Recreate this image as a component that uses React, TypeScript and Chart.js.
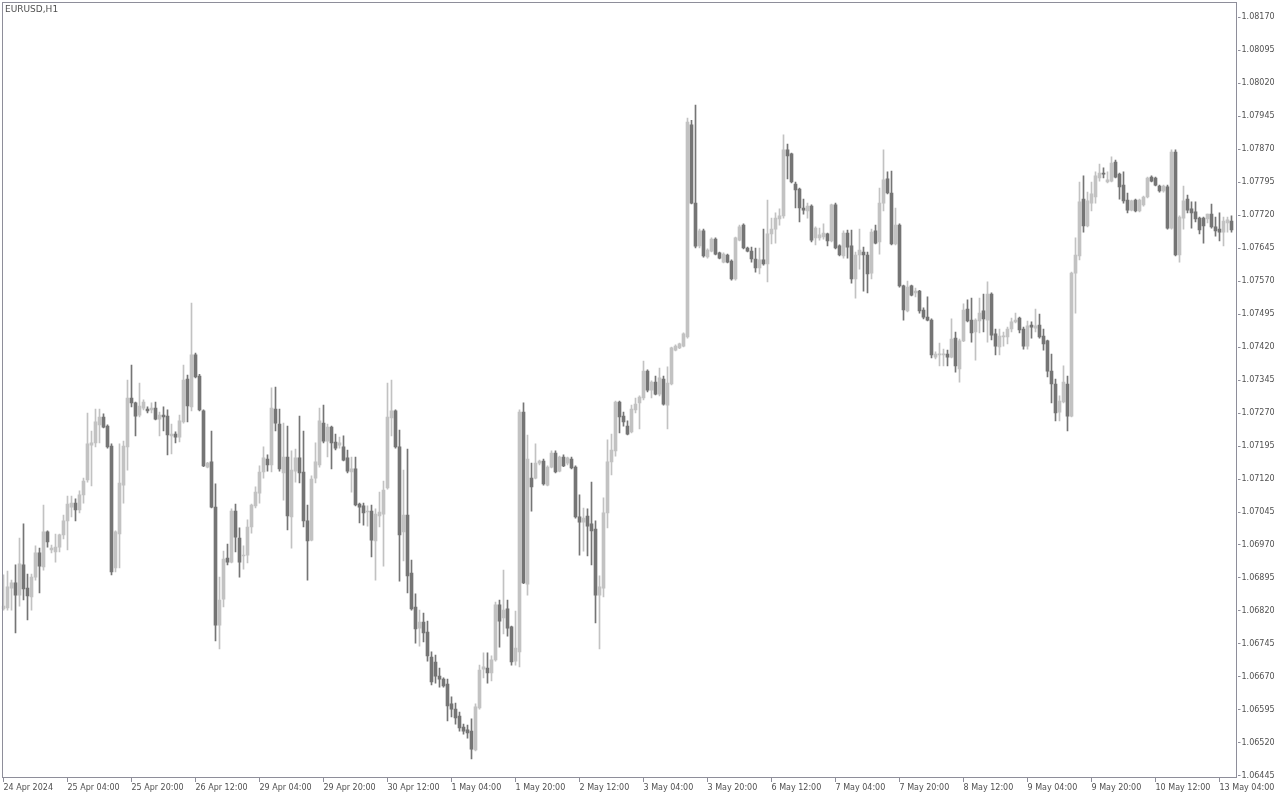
import React, { useEffect, useRef } from 'react';
import { Chart, registerables } from 'chart.js';

Chart.register(...registerables);

const symbolTitle = 'EURUSD,H1';

const xTickLabels = [
  '24 Apr 2024', '25 Apr 04:00', '25 Apr 20:00', '26 Apr 12:00', '29 Apr 04:00',
  '29 Apr 20:00', '30 Apr 12:00', '1 May 04:00', '1 May 20:00', '2 May 12:00',
  '3 May 04:00', '3 May 20:00', '6 May 12:00', '7 May 04:00', '7 May 20:00',
  '8 May 12:00', '9 May 04:00', '9 May 20:00', '10 May 12:00', '13 May 04:00',
];
const barsPerTick = 16;

const yTickValues = [
  1.06445, 1.06520, 1.06595, 1.06670, 1.06745, 1.06820, 1.06895, 1.06970,
  1.07045, 1.07120, 1.07195, 1.07270, 1.07345, 1.07420, 1.07495, 1.07570,
  1.07645, 1.07720, 1.07795, 1.07870, 1.07945, 1.08020, 1.08095, 1.08170,
];
const yMin = 1.0644045;
const yMax = 1.082041;

const opens = [
  1.06825,1.06827,1.06872,1.06884,1.06856,1.06925,1.06872,1.06852,1.06897,1.06952,
  1.06920,1.07000,1.06959,1.06954,1.06965,1.06993,1.07025,1.07056,1.07065,1.07050,
  1.07084,1.07118,1.07197,1.07202,1.07243,1.07261,1.07240,1.07195,1.06918,1.06995,
  1.07106,1.07193,1.07304,1.07293,1.07265,1.07281,1.07279,1.07277,1.07281,1.07256,
  1.07265,1.07263,1.07218,1.07222,1.07215,1.07250,1.07347,1.07284,1.07402,1.07354,
  1.07275,1.07147,1.07159,1.07056,1.06788,1.06847,1.06940,1.06931,1.07047,1.06986,
  1.06945,1.06947,1.07011,1.07059,1.07088,1.07136,1.07165,1.07152,1.07279,1.07245,
  1.07134,1.07170,1.07034,1.07138,1.07168,1.07136,1.07025,1.06981,1.07122,1.07152,
  1.07247,1.07206,1.07238,1.07204,1.07197,1.07193,1.07168,1.07136,1.07143,1.07063,
  1.07059,1.07045,1.07047,1.06979,1.07036,1.07040,1.07100,1.07259,1.07275,1.07193,
  1.07000,1.07038,1.06906,1.06829,1.06781,1.06795,1.06772,1.06715,1.06704,1.06672,
  1.06665,1.06654,1.06609,1.06597,1.06581,1.06556,1.06550,1.06547,1.06504,1.06600,
  1.06688,1.06690,1.06679,1.06709,1.06834,1.06804,1.06825,1.06784,1.06706,1.06727,
  1.07272,1.06881,1.07122,1.07122,1.07156,1.07161,1.07106,1.07147,1.07179,1.07138,
  1.07170,1.07156,1.07165,1.07147,1.07034,1.07022,1.07036,1.07018,1.07006,1.06856,
  1.06872,1.07043,1.07159,1.07184,1.07295,1.07263,1.07240,1.07227,1.07277,1.07293,
  1.07304,1.07365,1.07322,1.07340,1.07313,1.07347,1.07288,1.07336,1.07413,1.07418,
  1.07422,1.07443,1.07925,1.07747,1.07650,1.07684,1.07625,1.07638,1.07665,1.07634,
  1.07613,1.07629,1.07615,1.07575,1.07663,1.07697,1.07645,1.07638,1.07620,1.07600,
  1.07618,1.07609,1.07677,1.07688,1.07711,1.07718,1.07868,1.07859,1.07790,1.07779,
  1.07736,1.07729,1.07740,1.07668,1.07668,1.07670,1.07677,1.07661,1.07743,1.07650,
  1.07627,1.07679,1.07650,1.07575,1.07629,1.07636,1.07629,1.07588,1.07684,1.07659,
  1.07747,1.07802,1.07770,1.07654,1.07697,1.07559,1.07502,1.07559,1.07543,1.07547,
  1.07504,1.07488,1.07481,1.07397,1.07402,1.07402,1.07404,1.07397,1.07440,1.07370,
  1.07434,1.07506,1.07481,1.07454,1.07479,1.07502,1.07481,1.07540,1.07450,1.07420,
  1.07443,1.07443,1.07461,1.07477,1.07486,1.07461,1.07422,1.07470,1.07463,1.07470,
  1.07445,1.07434,1.07365,1.07336,1.07272,1.07295,1.07336,1.07263,1.07588,1.07627,
  1.07756,1.07695,1.07747,1.07761,1.07804,1.07815,1.07795,1.07797,1.07840,1.07813,
  1.07788,1.07754,1.07731,1.07754,1.07729,1.07743,1.07761,1.07806,1.07804,1.07786,
  1.07775,1.07784,1.07690,1.07863,1.07629,1.07713,1.07756,1.07734,1.07727,1.07713,
  1.07713,1.07711,1.07722,1.07693,1.07688,1.07681,1.07702,1.07706,
];

const highs = [
  1.06902,1.06911,1.06890,1.06925,1.06986,1.07018,1.06904,1.06904,1.06968,1.06963,
  1.07061,1.07002,1.06970,1.06995,1.06995,1.07038,1.07081,1.07081,1.07075,1.07093,
  1.07122,1.07270,1.07229,1.07279,1.07279,1.07268,1.07243,1.07200,1.07002,1.07200,
  1.07206,1.07345,1.07379,1.07295,1.07338,1.07300,1.07284,1.07293,1.07295,1.07272,
  1.07284,1.07277,1.07245,1.07227,1.07265,1.07379,1.07356,1.07520,1.07406,1.07358,
  1.07277,1.07158,1.07229,1.07109,1.06897,1.06956,1.06972,1.07052,1.07063,1.07009,
  1.06968,1.07027,1.07063,1.07102,1.07150,1.07193,1.07175,1.07327,1.07329,1.07279,
  1.07247,1.07240,1.07184,1.07188,1.07263,1.07229,1.07061,1.07127,1.07202,1.07281,
  1.07288,1.07245,1.07240,1.07222,1.07215,1.07218,1.07186,1.07170,1.07170,1.07065,
  1.07065,1.07059,1.07061,1.07052,1.07090,1.07115,1.07338,1.07345,1.07277,1.07231,
  1.07140,1.07188,1.06936,1.06859,1.06822,1.06815,1.06797,1.06727,1.06720,1.06690,
  1.06668,1.06665,1.06625,1.06611,1.06590,1.06563,1.06561,1.06575,1.06609,1.06697,
  1.06725,1.06725,1.06718,1.06840,1.06845,1.06913,1.06845,1.06786,1.06820,1.07277,
  1.07293,1.07220,1.07156,1.07200,1.07163,1.07165,1.07150,1.07184,1.07184,1.07172,
  1.07175,1.07170,1.07170,1.07150,1.07084,1.07054,1.07052,1.07113,1.07025,1.06900,
  1.07077,1.07209,1.07222,1.07297,1.07297,1.07272,1.07252,1.07288,1.07304,1.07309,
  1.07388,1.07368,1.07343,1.07354,1.07372,1.07354,1.07375,1.07420,1.07425,1.07429,
  1.07452,1.07940,1.07935,1.07970,1.07688,1.07688,1.07643,1.07668,1.07668,1.07636,
  1.07634,1.07631,1.07618,1.07670,1.07697,1.07700,1.07647,1.07647,1.07645,1.07645,
  1.07688,1.07754,1.07713,1.07725,1.07734,1.07902,1.07881,1.07861,1.07795,1.07781,
  1.07756,1.07747,1.07743,1.07693,1.07690,1.07700,1.07679,1.07745,1.07747,1.07652,
  1.07684,1.07686,1.07686,1.07636,1.07688,1.07647,1.07636,1.07688,1.07697,1.07781,
  1.07868,1.07818,1.07820,1.07736,1.07700,1.07561,1.07570,1.07561,1.07554,1.07549,
  1.07509,1.07534,1.07484,1.07409,1.07429,1.07415,1.07413,1.07484,1.07454,1.07438,
  1.07518,1.07527,1.07531,1.07484,1.07531,1.07540,1.07568,1.07543,1.07461,1.07461,
  1.07454,1.07465,1.07486,1.07497,1.07488,1.07465,1.07479,1.07477,1.07506,1.07495,
  1.07461,1.07436,1.07404,1.07347,1.07309,1.07377,1.07354,1.07590,1.07668,1.07795,
  1.07809,1.07772,1.07795,1.07818,1.07836,1.07827,1.07818,1.07852,1.07845,1.07815,
  1.07818,1.07770,1.07754,1.07756,1.07756,1.07763,1.07806,1.07809,1.07806,1.07788,
  1.07788,1.07788,1.07868,1.07868,1.07718,1.07786,1.07765,1.07750,1.07750,1.07715,
  1.07715,1.07722,1.07745,1.07715,1.07725,1.07715,1.07715,1.07718,
];

const lows = [
  1.06822,1.06822,1.06822,1.06770,1.06831,1.06845,1.06800,1.06822,1.06890,1.06861,
  1.06913,1.06965,1.06952,1.06931,1.06954,1.06984,1.06959,1.07034,1.07025,1.07043,
  1.07065,1.07113,1.07104,1.07193,1.07202,1.07236,1.07190,1.06902,1.06909,1.06918,
  1.07065,1.07140,1.07284,1.07218,1.07261,1.07277,1.07270,1.07270,1.07254,1.07218,
  1.07229,1.07175,1.07177,1.07202,1.07204,1.07247,1.07250,1.07275,1.07350,1.07275,
  1.07148,1.07145,1.07054,1.06752,1.06734,1.06829,1.06925,1.06929,1.06954,1.06897,
  1.06915,1.06929,1.06997,1.07054,1.07065,1.07122,1.07138,1.07136,1.07229,1.07138,
  1.07072,1.07004,1.06963,1.07113,1.07111,1.07011,1.06890,1.06979,1.07111,1.07147,
  1.07202,1.07170,1.07143,1.07186,1.07190,1.07161,1.07134,1.07090,1.07059,1.07020,
  1.07015,1.07013,1.06943,1.06890,1.07011,1.06922,1.07097,1.07218,1.07190,1.06888,
  1.06934,1.06861,1.06822,1.06747,1.06740,1.06750,1.06706,1.06652,1.06656,1.06647,
  1.06647,1.06570,1.06579,1.06563,1.06547,1.06540,1.06531,1.06484,1.06502,1.06597,
  1.06668,1.06656,1.06661,1.06706,1.06738,1.06768,1.06763,1.06697,1.06697,1.06693,
  1.06882,1.06856,1.07047,1.07120,1.07152,1.07106,1.07104,1.07145,1.07134,1.07136,
  1.07148,1.07152,1.07143,1.07031,1.06947,1.06956,1.06945,1.06925,1.06793,1.06734,
  1.06852,1.07009,1.07129,1.07172,1.07225,1.07240,1.07220,1.07225,1.07270,1.07234,
  1.07300,1.07318,1.07304,1.07311,1.07309,1.07288,1.07234,1.07334,1.07411,1.07416,
  1.07420,1.07440,1.07745,1.07645,1.07645,1.07624,1.07622,1.07636,1.07629,1.07620,
  1.07611,1.07611,1.07572,1.07572,1.07661,1.07643,1.07636,1.07613,1.07590,1.07586,
  1.07606,1.07568,1.07654,1.07656,1.07697,1.07713,1.07802,1.07793,1.07736,1.07704,
  1.07722,1.07713,1.07659,1.07652,1.07663,1.07665,1.07650,1.07659,1.07643,1.07627,
  1.07622,1.07622,1.07565,1.07531,1.07597,1.07547,1.07543,1.07575,1.07654,1.07631,
  1.07729,1.07768,1.07652,1.07652,1.07556,1.07481,1.07500,1.07536,1.07534,1.07497,
  1.07484,1.07479,1.07395,1.07393,1.07377,1.07377,1.07377,1.07395,1.07363,1.07340,
  1.07432,1.07477,1.07431,1.07390,1.07452,1.07454,1.07431,1.07436,1.07402,1.07402,
  1.07422,1.07427,1.07454,1.07475,1.07452,1.07415,1.07415,1.07440,1.07454,1.07440,
  1.07413,1.07352,1.07293,1.07252,1.07252,1.07293,1.07229,1.07261,1.07497,1.07618,
  1.07681,1.07693,1.07729,1.07747,1.07797,1.07804,1.07793,1.07795,1.07804,1.07756,
  1.07747,1.07725,1.07729,1.07727,1.07727,1.07740,1.07759,1.07795,1.07786,1.07772,
  1.07772,1.07688,1.07688,1.07627,1.07613,1.07688,1.07725,1.07690,1.07704,1.07677,
  1.07656,1.07702,1.07690,1.07672,1.07661,1.07650,1.07681,1.07681,
];

const closes = [
  1.06831,1.06875,1.06884,1.06856,1.06927,1.06870,1.06854,1.06897,1.06952,1.06922,
  1.07000,1.06977,1.06963,1.06965,1.06993,1.07025,1.07063,1.07065,1.07050,1.07084,
  1.07115,1.07200,1.07202,1.07250,1.07261,1.07238,1.07193,1.06909,1.07000,1.07111,
  1.07195,1.07304,1.07293,1.07263,1.07286,1.07295,1.07275,1.07281,1.07256,1.07265,
  1.07261,1.07220,1.07222,1.07215,1.07252,1.07345,1.07286,1.07402,1.07352,1.07277,
  1.07150,1.07156,1.07056,1.06788,1.06845,1.06938,1.06931,1.07047,1.06988,1.06931,
  1.06947,1.07011,1.07061,1.07090,1.07136,1.07168,1.07152,1.07281,1.07247,1.07143,
  1.07170,1.07036,1.07140,1.07168,1.07134,1.07025,1.06979,1.07120,1.07159,1.07252,
  1.07206,1.07238,1.07202,1.07190,1.07202,1.07163,1.07138,1.07143,1.07061,1.07056,
  1.07043,1.07047,1.06981,1.07040,1.07045,1.07095,1.07261,1.07275,1.07193,1.06993,
  1.07038,1.06900,1.06825,1.06779,1.06795,1.06770,1.06718,1.06659,1.06672,1.06665,
  1.06650,1.06604,1.06597,1.06577,1.06554,1.06547,1.06543,1.06506,1.06602,1.06686,
  1.06693,1.06679,1.06709,1.06834,1.06797,1.06822,1.06781,1.06704,1.06736,1.07272,
  1.06884,1.07165,1.07102,1.07156,1.07161,1.07109,1.07147,1.07179,1.07136,1.07170,
  1.07150,1.07168,1.07145,1.07034,1.07022,1.07031,1.07013,1.07002,1.06856,1.06875,
  1.07043,1.07159,1.07186,1.07295,1.07261,1.07250,1.07222,1.07279,1.07290,1.07306,
  1.07365,1.07322,1.07340,1.07313,1.07350,1.07290,1.07338,1.07418,1.07422,1.07427,
  1.07450,1.07931,1.07747,1.07649,1.07684,1.07627,1.07640,1.07665,1.07631,1.07622,
  1.07631,1.07613,1.07575,1.07668,1.07693,1.07645,1.07638,1.07620,1.07600,1.07618,
  1.07609,1.07677,1.07688,1.07713,1.07718,1.07868,1.07854,1.07795,1.07777,1.07736,
  1.07731,1.07740,1.07663,1.07690,1.07675,1.07679,1.07661,1.07743,1.07645,1.07629,
  1.07679,1.07647,1.07575,1.07629,1.07640,1.07629,1.07586,1.07681,1.07656,1.07747,
  1.07800,1.07770,1.07654,1.07697,1.07559,1.07504,1.07556,1.07538,1.07547,1.07502,
  1.07488,1.07481,1.07402,1.07404,1.07404,1.07404,1.07397,1.07438,1.07377,1.07434,
  1.07504,1.07479,1.07452,1.07481,1.07497,1.07484,1.07540,1.07447,1.07422,1.07445,
  1.07445,1.07461,1.07477,1.07481,1.07459,1.07422,1.07468,1.07465,1.07468,1.07443,
  1.07427,1.07365,1.07336,1.07270,1.07297,1.07340,1.07263,1.07588,1.07629,1.07750,
  1.07695,1.07752,1.07768,1.07809,1.07815,1.07813,1.07800,1.07838,1.07806,1.07784,
  1.07752,1.07731,1.07752,1.07729,1.07754,1.07761,1.07804,1.07797,1.07788,1.07775,
  1.07786,1.07690,1.07863,1.07629,1.07715,1.07752,1.07731,1.07725,1.07711,1.07686,
  1.07695,1.07722,1.07693,1.07684,1.07681,1.07706,1.07709,1.07686,
];

const UP_COLOR = '#c2c2c2';
const DOWN_COLOR = '#757575';
const FRAME_COLOR = '#8e8e9a';
const TEXT_COLOR = '#505050';
const FONT_FAMILY = '"DejaVu Sans", Tahoma, sans-serif';

const framePlugin = {
  id: 'mtFrame',
  afterDraw(chart: any) {
    const { ctx, chartArea: a } = chart;
    ctx.save();
    ctx.strokeStyle = FRAME_COLOR;
    ctx.lineWidth = 1;
    const l = 2.5;
    const t = Math.round(a.top) + 0.5;
    const r = Math.floor(a.right) - 0.5;
    const b = Math.round(a.bottom) - 0.5;
    ctx.strokeRect(l, t, r - l, b - t);
    ctx.fillStyle = TEXT_COLOR;
    ctx.font = `9px ${FONT_FAMILY}`;
    ctx.textBaseline = 'middle';
    ctx.textAlign = 'left';
    ctx.fillText(symbolTitle, 5, a.top + 8);
    ctx.restore();
  },
};

export default function App() {
  const canvasRef = useRef<HTMLCanvasElement | null>(null);

  useEffect(() => {
    document.body.style.margin = '0';
    document.body.style.background = '#ffffff';
    const canvas = canvasRef.current;
    if (!canvas) return;

    const n = opens.length;
    const labels: string[] = [];
    for (let i = 0; i <= n; i++) {
      labels.push(i % barsPerTick === 0 ? (xTickLabels[i / barsPerTick] ?? '') : '');
    }
    const colors = opens.map((o, i) => (closes[i] >= o ? UP_COLOR : DOWN_COLOR));

    const chart = new Chart(canvas, {
      type: 'bar',
      data: {
        labels,
        datasets: [
          {
            label: 'wick',
            data: lows.map((l, i) => [l, highs[i]]) as any,
            backgroundColor: colors,
            borderWidth: 0,
            barThickness: 1,
            grouped: false,
            minBarLength: 1,
          } as any,
          {
            label: 'body',
            data: opens.map((o, i) => [o, closes[i]]) as any,
            backgroundColor: colors,
            borderWidth: 0,
            barThickness: 3,
            grouped: false,
            minBarLength: 1,
          } as any,
        ],
      },
      options: {
        responsive: false,
        maintainAspectRatio: false,
        animation: false,
        events: [],
        layout: { padding: { left: 1.5, top: 2, right: 0, bottom: 0 } },
        plugins: {
          legend: { display: false },
          tooltip: { enabled: false },
          title: { display: false },
        },
        scales: {
          x: {
            type: 'category',
            offset: true,
            border: { display: false },
            grid: {
              drawOnChartArea: false,
              drawTicks: true,
              tickLength: 4,
              color: FRAME_COLOR,
              offset: false,
            },
            ticks: {
              autoSkip: false,
              maxRotation: 0,
              minRotation: 0,
              align: 'start',
              padding: 1,
              color: TEXT_COLOR,
              font: { family: FONT_FAMILY, size: 8 },
            },
            afterBuildTicks(scale: any) {
              scale.ticks = scale.ticks.filter(
                (t: any) => t.value % barsPerTick === 0 && t.value < n
              );
            },
            afterFit(scale: any) {
              scale.height = 22;
              scale.paddingLeft = 0;
              scale.paddingRight = 0;
            },
          } as any,
          y: {
            type: 'linear',
            position: 'right',
            min: yMin,
            max: yMax,
            border: { display: false },
            grid: {
              drawOnChartArea: false,
              drawTicks: true,
              tickLength: 3,
              color: FRAME_COLOR,
            },
            ticks: {
              padding: 1,
              color: TEXT_COLOR,
              font: { family: FONT_FAMILY, size: 8 },
              callback: (v: any) => Number(v).toFixed(5),
            },
            afterBuildTicks(scale: any) {
              scale.ticks = yTickValues.map((v) => ({ value: v }));
            },
            afterFit(scale: any) {
              scale.width = 42.5;
              scale.paddingTop = 0;
              scale.paddingBottom = 0;
            },
          } as any,
        },
      },
      plugins: [framePlugin],
    });

    return () => chart.destroy();
  }, []);

  return (
    <div style={{ width: 1280, height: 800, background: '#ffffff' }}>
      <canvas ref={canvasRef} width={1280} height={800} style={{ display: 'block' }} />
    </div>
  );
}
